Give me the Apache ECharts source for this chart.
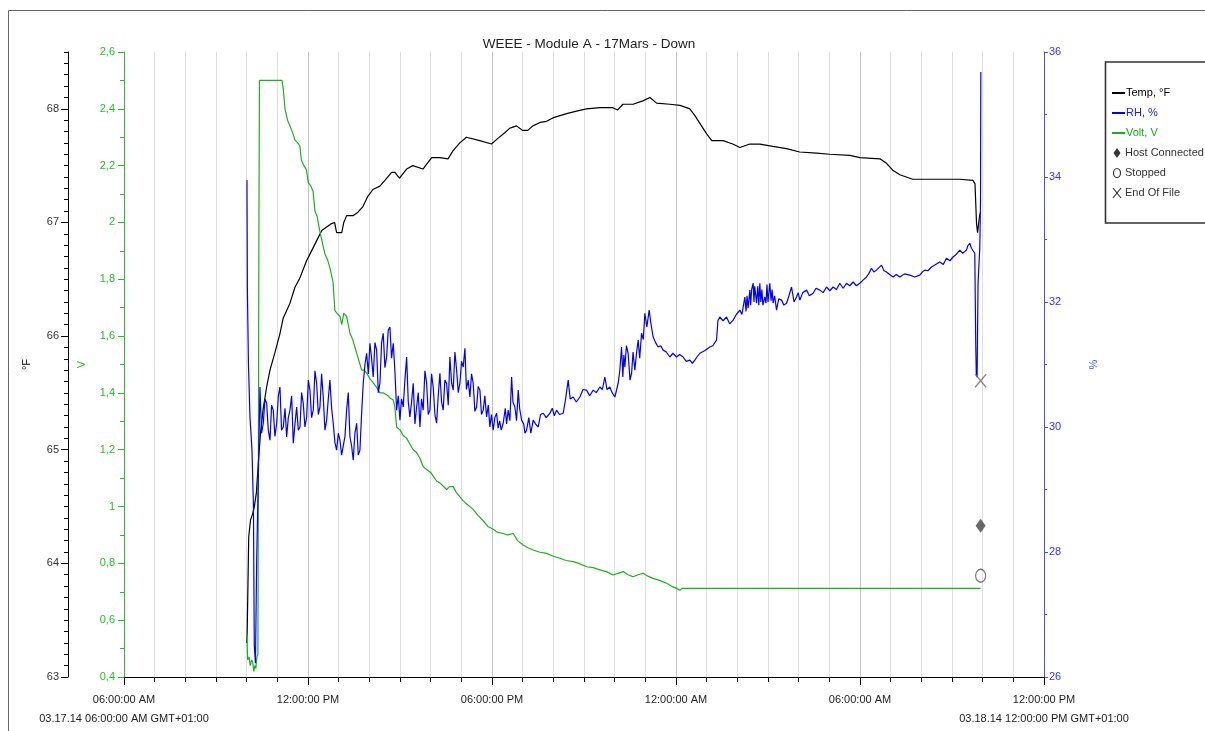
<!DOCTYPE html>
<html>
<head>
<meta charset="utf-8">
<script src="https://cdn.jsdelivr.net/npm/echarts@6/dist/echarts.min.js"></script>
<style>
  html, body { margin: 0; padding: 0; background: #fff; }
  #chart { width: 1205px; height: 731px; }
</style>
</head>
<body>
<div id="chart"></div>
<script>
// Logger export: WEEE - Module A - 17Mars - Down
// Time is given in minutes after 03.17.14 06:00:00 AM (GMT+01:00).

const chartTitle = 'WEEE - Module A - 17Mars - Down';
const axisStartDate = '03.17.14';
const axisEndDate = '03.18.14';
const axisSpanMinutes = 1800;

// Temperature, °F  [minute, value]
const tempReadings = [
  [240, 63.3], [241, 63.39], [244, 64.23], [247.5, 64.38], [252, 64.44], [255, 64.5],
  [259, 64.62], [263, 64.9], [267, 65.14], [272, 65.35], [279, 65.55], [285.6, 65.70],
  [295, 65.85], [305, 66.02], [311.6, 66.16], [324.7, 66.29], [334.5, 66.43], [344, 66.51],
  [357, 66.66], [367, 66.75], [377, 66.84], [387, 66.93], [396.5, 66.96], [406, 66.99],
  [412, 67.0], [416, 66.91], [426, 66.91], [430, 67.0], [435.6, 67.06], [448, 67.06],
  [457.7, 67.09], [467.5, 67.14], [477, 67.23], [487, 67.29], [500.7, 67.32], [510.5, 67.37],
  [523.6, 67.44], [530, 67.44], [539, 67.39], [553, 67.47], [565, 67.50], [585, 67.47],
  [590, 67.50], [602, 67.57], [618, 67.57], [634, 67.56], [643.5, 67.63], [657, 67.70],
  [670, 67.75], [696, 67.72], [719, 67.69], [731.5, 67.74], [745, 67.79], [755, 67.83],
  [768, 67.85], [780, 67.81], [790, 67.81], [800, 67.85], [814, 67.88], [827, 67.89],
  [839, 67.92], [853, 67.94], [868, 67.96], [885.5, 67.98], [905, 68.00], [931, 68.01],
  [956.5, 68.01], [966, 67.99], [976, 68.04], [996, 68.04], [1015, 68.07], [1029, 68.10],
  [1042, 68.05], [1068, 68.04], [1088, 68.03], [1107, 68.0], [1117, 67.94], [1127, 67.87],
  [1140, 67.78], [1150, 67.72], [1172, 67.72], [1191, 67.69], [1205, 67.66], [1224.5, 67.69],
  [1244, 67.69], [1269.5, 67.67], [1296, 67.65], [1322, 67.62], [1355, 67.61], [1381, 67.60],
  [1420, 67.59], [1440, 67.57], [1479, 67.56], [1492, 67.52], [1504, 67.46], [1518, 67.42],
  [1543, 67.38], [1570, 67.38], [1609, 67.38], [1635, 67.38], [1661, 67.37], [1665, 67.34],
  [1668, 66.99], [1670, 66.91], [1674, 67.06], [1676, 67.09]
];

// Relative humidity, %  [minute, value]
const rhReadings = [
  [240.6, 33.95], [241.4, 32.2], [243.5, 31.0], [246.5, 30.16], [250.4, 29.63], [253.3, 28.72],
  [254.9, 26.5], [257.2, 26.22], [259.6, 27.87], [262.7, 29.15], [266.0, 30.64], [269.2, 29.9],
  [272.5, 30.06], [275.8, 30.45], [279.1, 30.38], [282.3, 29.95], [285.6, 29.79], [288.8, 30.35],
  [292.0, 30.27], [295.3, 29.85], [298.7, 30.06], [302, 30.5], [305.1, 30.64], [308.3, 29.95],
  [311.6, 30.0], [315, 30.3], [318.2, 29.84], [321.5, 30.15], [324.7, 30.27], [328, 30.5],
  [331.2, 29.74], [334.5, 30.05], [337.8, 30.32], [341, 29.95], [344.3, 30.0], [347.5, 30.55],
  [350.7, 30.38], [354, 30.0], [357.4, 30.16], [360.6, 30.75], [363.8, 30.59], [367, 30.15],
  [370.3, 30.27], [373.6, 30.9], [376.9, 30.7], [380.2, 30.2], [383.4, 30.32], [386.6, 30.85],
  [389.8, 30.48], [393.2, 29.95], [396.5, 30.11], [399.7, 30.45], [402.9, 30.75], [406.2, 30.3],
  [409.4, 30.06], [412.7, 29.75], [416.0, 29.63], [419.3, 29.9], [422.5, 29.79], [425.8, 29.55],
  [429.0, 29.52], [432.3, 29.85], [435.6, 30.27], [438.8, 30.55], [442.1, 29.84], [445.3, 29.7],
  [448.5, 29.47], [451.8, 29.9], [455.2, 30.06], [458.4, 29.55], [461.6, 29.63], [464.8, 30.2],
  [468.1, 30.7], [471.4, 31.0], [474.7, 31.18], [478, 30.85], [481.2, 31.34], [484.4, 31.1],
  [487.6, 30.8], [491, 31.35], [494.3, 31.23], [497.5, 30.55], [500.7, 30.7], [504, 31.35],
  [507.2, 31.5], [510.5, 30.95], [513.8, 31.12], [517, 31.55], [520.3, 31.6], [523.5, 31.1],
  [526.8, 31.34], [530, 30.9], [533.4, 30.27], [536.6, 30.5], [539.9, 30.11], [543, 30.45],
  [546.3, 30.32], [549.6, 30.75], [553.0, 31.12], [556.2, 30.4], [559.4, 30.16], [562.6, 30.4],
  [565.9, 30.7], [569.2, 30.05], [572.5, 30.32], [575.7, 30.55], [579.0, 30.0], [582.2, 30.45],
  [585.4, 30.27], [588.8, 30.9], [592.1, 30.7], [595.3, 30.2], [598.5, 30.27], [601.8, 30.85],
  [605.0, 30.64], [608.3, 30.2], [611.6, 30.06], [614.8, 30.5], [618.1, 30.86], [621.3, 30.4],
  [624.5, 30.27], [627.8, 30.75], [631.2, 30.7], [634.4, 30.35], [637.7, 31.12], [641, 30.7],
  [644.1, 30.59], [647.4, 31.2], [650.8, 30.91], [654, 30.55], [657.2, 30.7], [660.4, 31.05],
  [663.7, 30.96], [667.0, 31.26], [670, 30.6], [673.4, 30.75], [676.8, 30.48], [680, 30.85],
  [683.2, 30.7], [686.5, 30.25], [689.9, 30.32], [693, 30.65], [696.3, 30.59], [699.5, 30.2],
  [702.8, 30.27], [706, 30.5], [709.4, 30.16], [712.7, 30.35], [715.9, 30.0], [719, 30.2],
  [722.3, 29.95], [725.6, 30.15], [729.0, 30.22], [732, 29.98], [735, 30.1], [738, 29.95],
  [741.9, 30.06], [746, 30.3], [748.5, 30.05], [751.7, 30.27], [755, 30.1], [758.4, 30.8],
  [761, 30.4], [764.8, 30.32], [768, 30.1], [771.3, 30.59], [774, 30.3], [777.9, 30.11],
  [782, 30.05], [784.5, 29.9], [787.7, 29.95], [792, 30.15], [796, 29.9], [800.6, 30.11],
  [805, 30.05], [810.4, 30.0], [815, 30.2], [820.2, 30.22], [826, 30.15], [833.3, 30.22],
  [838, 30.3], [842, 30.18], [846.4, 30.27], [852, 30.2], [859.3, 30.22], [864, 30.45],
  [869.1, 30.75], [873, 30.45], [878.9, 30.48], [885, 30.4], [891.9, 30.48], [898, 30.6],
  [905.0, 30.59], [911, 30.5], [918.0, 30.59], [924, 30.55], [931.1, 30.64], [936, 30.6],
  [940.8, 30.8], [945, 30.6], [950.6, 30.64], [955, 30.55], [960.4, 30.48], [966.9, 30.7],
  [970, 30.9], [973.5, 31.28], [976, 30.8], [978, 31.15], [980.0, 30.96], [983, 31.3],
  [986.4, 31.18], [990, 30.75], [993.1, 30.86], [996, 31.2], [999.5, 30.91], [1003, 31.2],
  [1006.0, 31.39], [1009, 31.1], [1012.6, 31.5], [1016, 31.4], [1019.1, 31.82], [1023, 31.6],
  [1027.5, 31.87], [1031, 31.65], [1035.3, 31.44], [1040, 31.35], [1045.1, 31.28], [1050, 31.3],
  [1054.9, 31.23], [1061, 31.2], [1068.0, 31.12], [1074, 31.18], [1081.1, 31.12], [1087, 31.16],
  [1094.0, 31.12], [1100, 31.05], [1107.1, 31.07], [1112, 31.02], [1116.9, 31.07], [1121, 31.12],
  [1126.7, 31.18], [1136, 31.22], [1146.2, 31.28], [1152, 31.3], [1159.3, 31.39], [1162, 31.7],
  [1165.8, 31.76], [1172, 31.7], [1178.9, 31.76], [1185, 31.65], [1191.8, 31.71], [1198, 31.8],
  [1204.9, 31.87], [1209, 31.8], [1214.7, 32.08], [1217, 31.85], [1219, 32.1], [1221, 31.9],
  [1224.5, 32.19], [1226, 31.95], [1228, 32.2], [1231.0, 32.3], [1232.5, 32.0], [1234, 32.25],
  [1237.6, 31.98], [1240, 32.25], [1242, 31.95], [1244.0, 32.3], [1246, 32.0], [1248, 32.2],
  [1250, 31.95], [1253.8, 32.08], [1256, 31.98], [1258, 32.28], [1260, 32.0], [1263.6, 32.3],
  [1266, 32.02], [1268, 32.2], [1270.0, 31.98], [1273, 32.1], [1276.7, 31.87], [1281, 32.05],
  [1286.5, 32.03], [1291, 31.95], [1296.3, 31.98], [1301, 32.1], [1306.0, 32.24], [1311, 32.0],
  [1315.8, 32.08], [1319, 32.15], [1322.3, 32.03], [1328, 32.15], [1335.4, 32.19], [1341, 32.1],
  [1348.3, 32.14], [1354, 32.22], [1361.4, 32.19], [1368, 32.15], [1374.5, 32.24], [1381, 32.18],
  [1387.4, 32.24], [1394, 32.2], [1400.5, 32.3], [1407, 32.22], [1413.6, 32.3], [1420, 32.26],
  [1426.5, 32.32], [1433, 32.26], [1439.6, 32.3], [1446, 32.35], [1452.7, 32.4], [1457, 32.45],
  [1462.5, 32.54], [1467, 32.48], [1472.3, 32.51], [1477, 32.55], [1482.1, 32.59], [1487, 32.5],
  [1491.9, 32.48], [1498, 32.44], [1504.8, 32.4], [1511, 32.44], [1517.9, 32.4], [1527, 32.45],
  [1537.4, 32.43], [1547, 32.4], [1557.0, 32.43], [1562, 32.48], [1566.8, 32.51], [1573, 32.5],
  [1579.9, 32.56], [1588, 32.6], [1596.1, 32.64], [1603, 32.6], [1609.2, 32.7], [1616, 32.66],
  [1622.1, 32.72], [1628, 32.76], [1635.2, 32.83], [1641, 32.78], [1648.3, 32.83], [1651, 32.9],
  [1654.8, 32.94], [1658, 32.86], [1661.3, 32.88], [1664.6, 32.78], [1666.5, 31.3], [1667.5, 30.86],
  [1669.1, 30.8], [1671.0, 32.3], [1674.4, 32.88], [1675.8, 33.63], [1676.4, 35.68]
];

// Battery voltage, V  [minute, value]
const voltReadings = [
  [240, 0.55], [241, 0.52], [242, 0.46], [245, 0.47], [247, 0.44], [250, 0.46],
  [252, 0.45], [254, 0.42], [256, 0.44], [258, 0.43], [260, 0.47], [262, 0.48],
  [263, 1.2], [264, 2.0], [265, 2.5], [309, 2.5], [311.6, 2.47], [315, 2.40],
  [320, 2.36], [324.7, 2.34], [331, 2.31], [334.5, 2.29], [340, 2.28], [344, 2.27],
  [347, 2.22], [352, 2.20], [357, 2.185], [360.5, 2.14], [365, 2.13], [370, 2.11],
  [373.6, 2.04], [378, 2.02], [383, 1.97], [388, 1.93], [393, 1.89], [398, 1.87],
  [403, 1.84], [409, 1.79], [412.6, 1.69], [417, 1.68], [422.5, 1.67], [426, 1.64],
  [430, 1.68], [435.6, 1.67], [442, 1.61], [447, 1.59], [452, 1.56], [458.6, 1.52],
  [465, 1.48], [470, 1.48], [474.7, 1.47], [481, 1.45], [487.6, 1.435], [494, 1.42],
  [500.7, 1.40], [508, 1.40], [516.4, 1.39], [522, 1.38], [526.8, 1.375], [530, 1.35],
  [533.4, 1.28], [540, 1.27], [546.3, 1.25], [553, 1.24], [559.4, 1.22], [565.9, 1.20],
  [572.5, 1.19], [579, 1.17], [585.4, 1.14], [592, 1.13], [600, 1.12], [611.6, 1.09],
  [620, 1.08], [631.2, 1.06], [637, 1.07], [644, 1.07], [650, 1.05], [663.7, 1.02],
  [670, 1.01], [683.2, 0.99], [692, 0.97], [702.8, 0.95], [712, 0.93], [722.4, 0.92],
  [730, 0.91], [742, 0.905], [750, 0.90], [761.5, 0.905], [770, 0.88], [781, 0.865],
  [790, 0.855], [800.6, 0.847], [812, 0.84], [826.8, 0.835], [840, 0.825], [852.8, 0.818],
  [865, 0.81], [878.8, 0.806], [890, 0.80], [905, 0.788], [918, 0.785], [931, 0.777],
  [945, 0.77], [957, 0.759], [966, 0.765], [976.7, 0.771], [986, 0.76], [996, 0.753],
  [1006, 0.76], [1015.8, 0.765], [1025, 0.755], [1035, 0.747], [1048, 0.74], [1061.5, 0.73],
  [1071, 0.72], [1081, 0.712], [1087.5, 0.705], [1092, 0.712], [1100.6, 0.712], [1676, 0.712]
];

// Logger events, plotted against the % axis  [minute, value]
const hostConnected = [[1676, 28.42]];
const stopped = [[1676, 27.62]];
const endOfFile = [[1676, 30.74]];

// Axis tick values
const fMajorTicks = [63, 64, 65, 66, 67, 68];
const fMinorTicks = [];
for (let i = 0; i <= 55; i++) fMinorTicks.push(+(63 + i * 0.1).toFixed(1));

const FONT = "'Liberation Sans', Arial, sans-serif";
const BLACK = '#000000';
const BLUE = '#0000ff';
const GREEN = '#1cb01c';
const AXIS_GREEN = '#22c322';
const AXIS_BLUE = '#4a4aff';

function pad(n) { return (n < 10 ? '0' : '') + n; }
function clockLabel(minutes) {
  const total = 6 * 60 + minutes;
  const h24 = Math.floor(total / 60) % 24;
  const mm = Math.round(total % 60);
  const ampm = h24 < 12 ? 'AM' : 'PM';
  const h12 = h24 % 12 === 0 ? 12 : h24 % 12;
  return pad(h12) + ':' + pad(mm) + ':00 ' + ampm;
}
function xLabel(value) {
  const t = clockLabel(value);
  if (value === 0) return t + '\n' + axisStartDate + ' ' + t + ' GMT+01:00';
  if (value === axisSpanMinutes) return t + '\n' + axisEndDate + ' ' + t + ' GMT+01:00';
  return t;
}
function voltLabel(v) {
  let s = (Math.round(v * 10) / 10).toFixed(1);
  if (s.endsWith('.0')) s = s.slice(0, -2);
  return s.replace('.', ',');
}

// Legend drawn as a boxed list
const legendRows = [
  { kind: 'line', color: BLACK, text: 'Temp, °F', textColor: '#000' },
  { kind: 'line', color: BLUE, text: 'RH, %', textColor: '#1a1aff' },
  { kind: 'line', color: GREEN, text: 'Volt, V', textColor: '#16a816' },
  { kind: 'diamond', text: 'Host Connected', textColor: '#333' },
  { kind: 'circle', text: 'Stopped', textColor: '#333' },
  { kind: 'cross', text: 'End Of File', textColor: '#333' }
];
const legendGraphics = [{
  type: 'rect',
  shape: { x: 1105.5, y: 62, width: 140, height: 161 },
  style: { fill: '#fff', stroke: '#333', lineWidth: 1.6 }
}];
legendRows.forEach((row, i) => {
  const cy = 93 + i * 20;
  if (row.kind === 'line') {
    legendGraphics.push({ type: 'line', shape: { x1: 1112, y1: cy, x2: 1125, y2: cy },
      style: { stroke: row.color, lineWidth: 2 } });
  } else if (row.kind === 'diamond') {
    legendGraphics.push({ type: 'polygon', shape: { points: [[1117, cy - 5], [1120.5, cy], [1117, cy + 5], [1113.5, cy]] },
      style: { fill: '#333' } });
  } else if (row.kind === 'circle') {
    legendGraphics.push({ type: 'ellipse', shape: { cx: 1117, cy: cy, rx: 3.5, ry: 4.5 },
      style: { fill: 'none', stroke: '#333', lineWidth: 1.2 } });
  } else {
    legendGraphics.push({ type: 'polyline', shape: { points: [[1113, cy - 5], [1121, cy + 5]] },
      style: { stroke: '#333', lineWidth: 1.2 } });
    legendGraphics.push({ type: 'polyline', shape: { points: [[1121, cy - 5], [1113, cy + 5]] },
      style: { stroke: '#333', lineWidth: 1.2 } });
  }
  legendGraphics.push({
    type: 'text', x: row.kind === 'line' ? 1126 : 1125, y: cy,
    style: { text: row.text, fill: row.textColor, font: '11px ' + FONT, verticalAlign: 'middle' }
  });
});

const chart = echarts.init(document.getElementById('chart'), null, { renderer: 'canvas' });

chart.setOption({
  animation: false,
  backgroundColor: '#fff',
  textStyle: { fontFamily: FONT },
  title: {
    text: chartTitle,
    left: 584, top: 32, textAlign: 'center',
    textStyle: { fontSize: 13.5, fontWeight: 'normal', color: '#222', fontFamily: FONT }
  },
  grid: { left: 124, right: 161, top: 52, bottom: 54, containLabel: false },
  xAxis: {
    type: 'value', min: 0, max: axisSpanMinutes, interval: 360,
    axisLine: { onZero: false, lineStyle: { color: '#000', width: 1 } },
    axisTick: { length: 8, lineStyle: { color: '#000' } },
    minorTick: { show: true, splitNumber: 6, length: 5, lineStyle: { color: '#000' } },
    splitLine: { show: true, lineStyle: { color: '#c4c4c4', width: 1 } },
    minorSplitLine: { show: true, lineStyle: { color: '#e0e0e0', width: 1 } },
    axisLabel: {
      formatter: xLabel, margin: 13, color: '#222', fontSize: 11, lineHeight: 19,
      fontFamily: FONT, showMinLabel: true, showMaxLabel: true
    }
  },
  yAxis: [
    {
      type: 'value', position: 'left', offset: 56, min: 63, max: 68.5, interval: 1,
      name: '°F', nameLocation: 'middle', nameGap: 36,
      nameTextStyle: { color: '#000', fontSize: 11, fontFamily: FONT },
      axisLine: { show: true, onZero: false, lineStyle: { color: '#000' } },
      axisTick: { show: true, length: 7, customValues: fMajorTicks, lineStyle: { color: '#000' } },
      axisLabel: { customValues: fMajorTicks, margin: 9, color: '#333', fontSize: 11, fontFamily: FONT },
      splitLine: { show: false }
    },
    {
      type: 'value', position: 'left', offset: 56, min: 63, max: 68.5,
      axisLine: { show: false, onZero: false },
      axisTick: { show: true, length: 4, customValues: fMinorTicks, lineStyle: { color: '#000' } },
      axisLabel: { show: false },
      splitLine: { show: false }
    },
    {
      type: 'value', position: 'left', offset: 0, min: 0.4, max: 2.6, interval: 0.2,
      name: 'V', nameLocation: 'middle', nameGap: 37,
      nameTextStyle: { color: AXIS_GREEN, fontSize: 11, fontFamily: FONT },
      axisLine: { show: true, onZero: false, lineStyle: { color: AXIS_GREEN } },
      axisTick: { show: true, length: 6, lineStyle: { color: AXIS_GREEN } },
      minorTick: { show: true, splitNumber: 2, length: 4, lineStyle: { color: AXIS_GREEN } },
      axisLabel: { formatter: voltLabel, margin: 9, color: AXIS_GREEN, fontSize: 11, fontFamily: FONT },
      splitLine: { show: false }
    },
    {
      type: 'value', position: 'right', offset: 0, min: 26, max: 36, interval: 2,
      name: '%', nameLocation: 'middle', nameGap: 44,
      nameTextStyle: { color: AXIS_BLUE, fontSize: 11, fontFamily: FONT },
      axisLine: { show: true, onZero: false, lineStyle: { color: AXIS_BLUE } },
      axisTick: { show: true, length: 4, lineStyle: { color: AXIS_BLUE } },
      minorTick: { show: true, splitNumber: 2, length: 3, lineStyle: { color: AXIS_BLUE } },
      axisLabel: { margin: 5, color: '#3030ff', fontSize: 11, fontFamily: FONT },
      splitLine: { show: false }
    }
  ],
  series: [
    {
      name: 'Temp, °F', type: 'line', yAxisIndex: 0, data: tempReadings,
      showSymbol: false, symbol: 'none', lineStyle: { color: BLACK, width: 1.2 }, z: 3
    },
    {
      name: 'RH, %', type: 'line', yAxisIndex: 3, data: rhReadings,
      showSymbol: false, symbol: 'none', lineStyle: { color: BLUE, width: 1.2 }, z: 4
    },
    {
      name: 'Volt, V', type: 'line', yAxisIndex: 2, data: voltReadings,
      showSymbol: false, symbol: 'none', lineStyle: { color: GREEN, width: 1.2 }, z: 3
    },
    {
      name: 'Host Connected', type: 'scatter', yAxisIndex: 3, data: hostConnected,
      symbol: 'diamond', symbolSize: [10, 14], itemStyle: { color: '#444' }, z: 5
    },
    {
      name: 'Stopped', type: 'scatter', yAxisIndex: 3, data: stopped,
      symbol: 'circle', symbolSize: [10, 13],
      itemStyle: { color: 'rgba(0,0,0,0)', borderColor: '#555', borderWidth: 1.3 }, z: 5
    },
    {
      name: 'End Of File', type: 'scatter', yAxisIndex: 3, data: endOfFile,
      symbol: 'path://M0,0L10,12M10,0L0,12', symbolSize: [11, 13],
      itemStyle: { color: 'rgba(0,0,0,0)', borderColor: '#666', borderWidth: 1.4 }, z: 5
    }
  ],
  graphic: [
    {
      type: 'polyline', silent: true,
      shape: { points: [[8.5, 740], [8.5, 10.5], [1210, 10.5]] },
      style: { stroke: '#666', lineWidth: 1, fill: 'none' }
    }
  ].concat(legendGraphics)
});
</script>
</body>
</html>
